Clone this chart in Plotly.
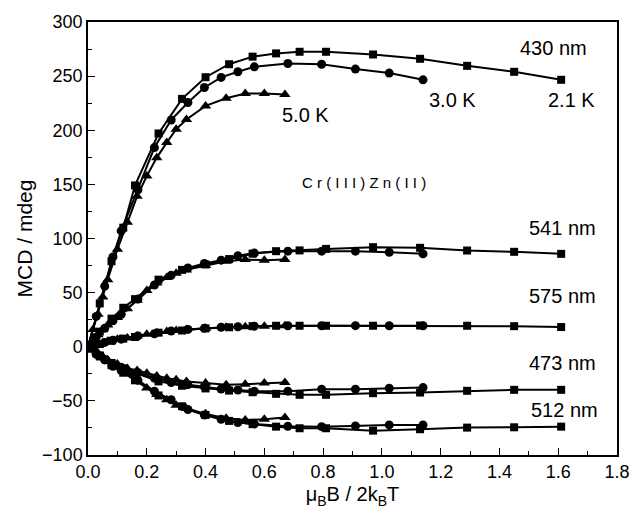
import plotly.graph_objects as go

# x values (mu_B B / 2 k_B T) for each temperature
X_21 = [0, 0.04, 0.08, 0.12, 0.16, 0.24, 0.32, 0.40, 0.48, 0.56, 0.64, 0.72, 0.81, 0.97, 1.13, 1.29, 1.45, 1.61]
X_30 = [0, 0.028, 0.057, 0.085, 0.113, 0.17, 0.226, 0.283, 0.34, 0.396, 0.453, 0.51, 0.566, 0.68, 0.795, 0.91, 1.025, 1.14]
X_50 = [0, 0.017, 0.034, 0.05, 0.067, 0.10, 0.134, 0.167, 0.20, 0.234, 0.268, 0.30, 0.335, 0.40, 0.47, 0.535, 0.60, 0.67]

# 430 nm
Y430_21 = [0, 40, 79, 110, 149, 197, 229, 249, 261, 268, 271, 272.5, 272.5, 270, 266, 259.5, 254, 246.6]
Y430_30 = [0, 28, 56, 83, 107, 145, 184, 209.5, 225.6, 239.5, 248.8, 254, 258.6, 261.7, 261, 256.5, 252.8, 246.6]
Y430_50 = [0, 16, 30, 46, 62, 90, 115, 139, 157.7, 174.7, 188.6, 201, 210, 222.5, 229.6, 234, 234, 233]
# 541 nm
Y541_21 = [0, 14, 26, 36, 44, 62, 71, 76, 81, 86, 88.3, 89, 90.4, 92, 91.4, 88.9, 87.7, 85.8]
Y541_30 = [0, 9, 17, 24, 30, 44, 57, 66, 72.8, 77, 80, 84, 86.5, 88.3, 88.3, 88.3, 87.3, 85.8]
Y541_50 = [0, 6, 11, 16, 20, 27, 35, 43, 52, 59, 64, 68, 71, 75, 79, 80.5, 80, 80.5]
# 575 nm
Y575_21 = [0, 2.5, 5.5, 7.5, 9, 13, 15, 17, 18, 19, 19.4, 19.4, 19.4, 19.4, 19.6, 19.4, 19, 18.2]
Y575_30 = [0, 2, 4, 6, 7, 10, 12, 14.5, 16, 17, 18, 18.5, 19, 19.4, 19.4, 19.5, 19.4, 19.4]
Y575_50 = [0, 1, 2.5, 3.5, 5, 7, 8, 10, 11.5, 13, 14, 15, 16, 17, 18, 18.5, 19, 19.4]
# 473 nm
Y473_21 = [0, -8, -15, -20, -24, -32, -36, -38.5, -40.5, -42, -43.5, -44.4, -44.4, -42.9, -42.3, -40.7, -39.8, -39.8]
Y473_30 = [0, -6, -12, -16, -19, -24, -29, -33, -35, -37, -39, -40, -41, -41, -39.2, -39.2, -38.3, -37.7]
Y473_50 = [0, -3, -6, -9, -12, -16, -20, -22, -24.5, -27, -29, -30.5, -32, -33.5, -35, -34.6, -33.6, -33]
# 512 nm
Y512_21 = [0, -9, -17, -24, -31, -45, -55, -63, -68.5, -71.5, -73.8, -75.3, -75.3, -77.5, -76.2, -74.7, -74.4, -73.8]
Y512_30 = [0, -7, -12, -18, -22, -31, -41, -49, -58, -63, -67, -70, -71.3, -73.5, -73.8, -73.1, -72.2, -72.2]
Y512_50 = [0, -3, -7, -10, -13, -19, -24, -31, -38, -44, -49, -54, -57, -62, -66, -67.6, -67, -65.4]

SERIES = [
    (X_21, [Y430_21, Y541_21, Y575_21, Y473_21, Y512_21], "square", 8),
    (X_30, [Y430_30, Y541_30, Y575_30, Y473_30, Y512_30], "circle", 9),
    (X_50, [Y430_50, Y541_50, Y575_50, Y473_50, Y512_50], "triangle-up", 10),
]

LABELS = [
    ("430 nm", 1.585, 276), ("3.0 K", 1.24, 228), ("2.1 K", 1.645, 228), ("5.0 K", 0.74, 214),
    ("541 nm", 1.615, 110), ("575 nm", 1.615, 47), ("473 nm", 1.615, -15), ("512 nm", 1.62, -58),
]
INNER_LABEL = ("C r ( I I I ) Z n ( I I )", 0.94, 152)

FONT = "Liberation Sans, Arial, sans-serif"

fig = go.Figure()
for xs, ylists, sym, size in SERIES:
    for ys in ylists:
        fig.add_trace(go.Scatter(
            x=xs, y=ys, mode="lines+markers",
            line=dict(color="black", width=2),
            marker=dict(symbol=sym, size=size, color="black"),
            showlegend=False,
        ))

for text, x, y in LABELS:
    fig.add_annotation(x=x, y=y, text=text, showarrow=False,
                       font=dict(family=FONT, size=20, color="black"))
fig.add_annotation(x=INNER_LABEL[1], y=INNER_LABEL[2], text=INNER_LABEL[0], showarrow=False,
                   font=dict(family=FONT, size=15, color="black"))

axis_common = dict(
    showgrid=False, zeroline=False, showline=True, linecolor="black", linewidth=1.5,
    mirror=True, ticks="inside", ticklen=7, tickwidth=1.2, tickcolor="black",
    tickfont=dict(family=FONT, size=18, color="black"),
)
fig.update_xaxes(range=[0, 1.8], tickmode="array",
                 tickvals=[0, 0.2, 0.4, 0.6, 0.8, 1.0, 1.2, 1.4, 1.6, 1.8],
                 ticktext=["0.0", "0.2", "0.4", "0.6", "0.8", "1.0", "1.2", "1.4", "1.6", "1.8"],
                 minor=dict(tickvals=[0.1, 0.3, 0.5, 0.7, 0.9, 1.1, 1.3, 1.5, 1.7], ticks="inside", ticklen=4, tickcolor="black"),
                 title=dict(text="μ<sub>B</sub>B / 2k<sub>B</sub>T", font=dict(family=FONT, size=20, color="black"), standoff=6),
                 **axis_common)
fig.update_yaxes(range=[-100, 300], tickmode="array",
                 tickvals=[-100, -50, 0, 50, 100, 150, 200, 250, 300],
                 minor=dict(tickvals=[-75, -25, 25, 75, 125, 175, 225, 275], ticks="inside", ticklen=4, tickcolor="black"),
                 title=dict(text="MCD / mdeg", font=dict(family=FONT, size=21, color="black"), standoff=4),
                 **axis_common)
fig.update_layout(
    width=642, height=515,
    margin=dict(l=88, r=14, t=22, b=60),
    plot_bgcolor="white", paper_bgcolor="white",
)
fig.write_html("out.html")
